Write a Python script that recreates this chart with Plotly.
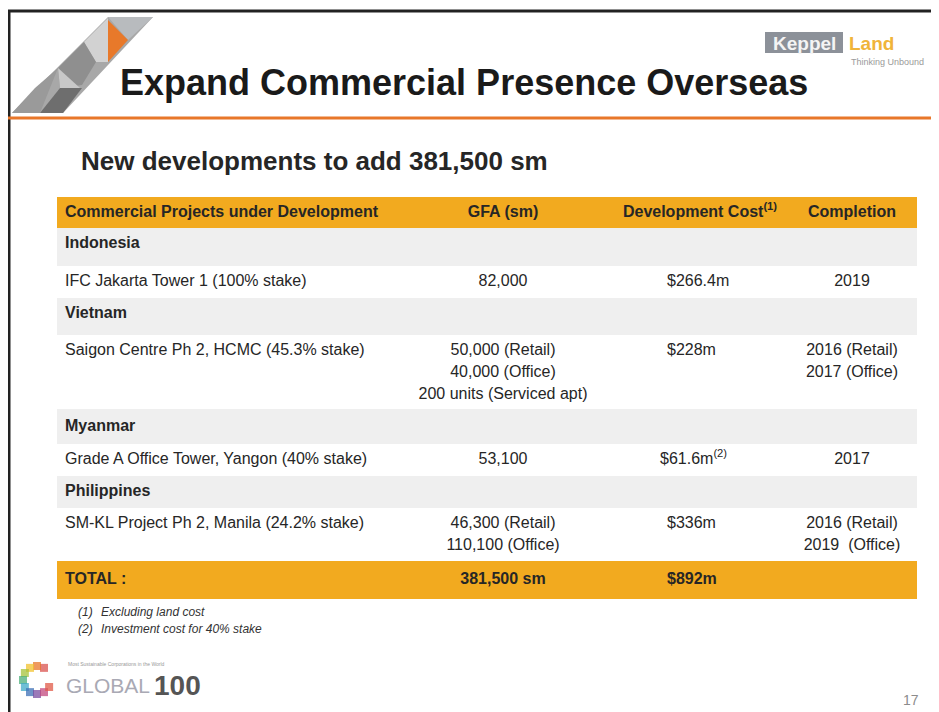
import math
import plotly.graph_objects as go

# ---------------- data ----------------
header = ["Commercial Projects under Development", "GFA (sm)",
          "Development Cost<sup>(1)</sup>", "Completion"]
countries = ["Indonesia", "Vietnam", "Myanmar", "Philippines"]
projects = ["IFC Jakarta Tower 1 (100% stake)",
            "Saigon Centre Ph 2, HCMC (45.3% stake)",
            "Grade A Office Tower, Yangon (40% stake)",
            "SM-KL Project Ph 2, Manila (24.2% stake)"]
gfa = [["82,000"],
       ["50,000 (Retail)", "40,000 (Office)", "200 units (Serviced apt)"],
       ["53,100"],
       ["46,300 (Retail)", "110,100 (Office)"]]
cost = ["$266.4m", "$228m", "$61.6m<sup>(2)</sup>", "$336m"]
completion = [["2019"],
              ["2016 (Retail)", "2017 (Office)"],
              ["2017"],
              ["2016 (Retail)", "2019  (Office)"]]
total = ["TOTAL :", "381,500 sm", "$892m", ""]
footnotes = [("(1)", "Excluding land cost"), ("(2)", "Investment cost for 40% stake")]
title = "Expand Commercial Presence Overseas"
subtitle = "New developments to add 381,500 sm"
page_no = "17"

# ---------------- layout constants ----------------
W, H = 939, 712
OFF = 8  # page body margin in the browser
FONT = "Liberation Sans, Arial"
ORANGE = "#F2AA1F"
GRAY_ROW = "#EFEFEF"
TXT = "#262626"
T_LEFT, T_RIGHT, T_TOP = 57, 917, 197
HEADER_H, TOTAL_H = 31, 38
COUNTRY_H = [38, 37, 35, 32]
COUNTRY_TXT = [16, 16, 18, 16]
LINE_PITCH = 22
COL0_X, COL1_X, COL2_X, COL2_HDR_X, COL3_X = 65, 503, 667, 700, 852
BODY_SIZE = 16

fig = go.Figure()
shapes = []
texts = {"left": ([], [], []), "center": ([], [], []), "leftb": ([], [], []), "centerb": ([], [], [])}


def add_text(kind, x, y, t):
    if not t:
        return
    texts[kind][0].append(x)
    texts[kind][1].append(y)
    texts[kind][2].append(t)


def add_rect(y0, y1, color):
    shapes.append(dict(type="rect", xref="x", yref="y", x0=T_LEFT, x1=T_RIGHT,
                       y0=y0, y1=y1, fillcolor=color, line_width=0, layer="below"))


# header row
y = T_TOP
add_rect(y, y + HEADER_H, ORANGE)
yc = y + 16
add_text("leftb", COL0_X, yc, header[0])
add_text("centerb", COL1_X, yc, header[1])
add_text("centerb", COL2_HDR_X, yc, header[2])
add_text("centerb", COL3_X, yc, header[3])
y += HEADER_H

for i in range(len(countries)):
    add_rect(y, y + COUNTRY_H[i], GRAY_ROW)
    add_text("leftb", COL0_X, y + COUNTRY_TXT[i], countries[i])
    y += COUNTRY_H[i]
    nlines = max(len(gfa[i]), len(completion[i]))
    rh = 32 + 21 * (nlines - 1)
    add_text("left", COL0_X, y + 16, projects[i])
    for k, g in enumerate(gfa[i]):
        add_text("center", COL1_X, y + 16 + LINE_PITCH * k, g)
    add_text("left", COL2_X if "sup" not in cost[i] else COL2_X - 7, y + 16, cost[i])
    for k, c in enumerate(completion[i]):
        add_text("center", COL3_X, y + 16 + LINE_PITCH * k, c)
    y += rh

add_rect(y, y + TOTAL_H, ORANGE)
yc = y + 19
add_text("leftb", COL0_X, yc, total[0])
add_text("centerb", COL1_X, yc, total[1])
add_text("leftb", COL2_X, yc, total[2])
add_text("centerb", COL3_X, yc, total[3])
table_bottom = y + TOTAL_H

for kind, (xs, ys, ts) in texts.items():
    bold = kind.endswith("b")
    fig.add_trace(go.Scatter(
        x=xs, y=ys, text=[f"<b>{t}</b>" if bold else t for t in ts],
        mode="text", textposition="middle right" if kind.startswith("left") else "middle center",
        textfont=dict(family=FONT, size=BODY_SIZE, color=TXT),
        hoverinfo="skip", showlegend=False, cliponaxis=False))

annotations = []
# footnotes
for k, (n, t) in enumerate(footnotes):
    fy = table_bottom + 13 + 17 * k
    annotations.append(dict(x=76, y=fy, xref="x", yref="y", text=f"<i>{n}</i>", showarrow=False,
                            xanchor="left", yanchor="middle",
                            font=dict(family=FONT, size=12, color="#333333")))
    annotations.append(dict(x=99, y=fy, xref="x", yref="y", text=f"<i>{t}</i>", showarrow=False,
                            xanchor="left", yanchor="middle",
                            font=dict(family=FONT, size=12, color="#333333")))

# title and subtitle
annotations.append(dict(x=118, y=82, xref="x", yref="y", text=f"<b>{title}</b>", showarrow=False,
                        xanchor="left", yanchor="middle",
                        font=dict(family=FONT, size=36, color="#1A1A1A")))
annotations.append(dict(x=79, y=161, xref="x", yref="y", text=f"<b>{subtitle}</b>", showarrow=False,
                        xanchor="left", yanchor="middle",
                        font=dict(family=FONT, size=26, color="#262626")))
# page number
annotations.append(dict(x=911, y=700, xref="x", yref="y", text=page_no, showarrow=False,
                        xanchor="center", yanchor="middle",
                        font=dict(family=FONT, size=14, color="#8C8C8C")))

# frame lines
shapes.append(dict(type="line", xref="x", yref="y", x0=OFF, x1=W + 5, y0=11, y1=11,
                   line=dict(color="#222222", width=3)))
shapes.append(dict(type="line", xref="x", yref="y", x0=OFF + 1, x1=OFF + 1, y0=10, y1=H + 5,
                   line=dict(color="#222222", width=3)))
shapes.append(dict(type="line", xref="x", yref="y", x0=OFF, x1=W + 5, y0=118, y1=118,
                   line=dict(color="#E8772A", width=3)))


def poly(pts, color):
    p = "M " + " L ".join(f"{a},{b}" for a, b in pts) + " Z"
    shapes.append(dict(type="path", xref="x", yref="y", path=p, fillcolor=color, line_width=0))


# top-left decorative logo
poly([(12, 113), (63, 113), (153, 17), (108, 17)], "#A8A8A8")
poly([(108, 17), (153, 17), (128, 40)], "#B8BBBE")
poly([(84, 42), (108, 18), (108, 62), (96, 62)], "#D2D2D2")
poly([(108, 20), (128, 40), (108, 62)], "#E8792A")
poly([(58, 68), (84, 42), (96, 62), (82, 85), (60, 88)], "#8F8F8F")
poly([(58, 68), (80, 88), (60, 88)], "#C8C8C8")
poly([(60, 88), (82, 88), (63, 113), (40, 113)], "#6E6E6E")
poly([(12, 113), (40, 113), (58, 68), (35, 88)], "#9A9A9A")

# Keppel Land logo
shapes.append(dict(type="rect", xref="x", yref="y", x0=765, x1=843, y0=32, y1=53,
                   fillcolor="#8C9199", line_width=0))
annotations.append(dict(x=804, y=43, xref="x", yref="y", text="<b>Keppel</b>", showarrow=False,
                        xanchor="center", yanchor="middle",
                        font=dict(family=FONT, size=19, color="#F4F4F4")))
annotations.append(dict(x=847, y=43, xref="x", yref="y", text="<b>Land</b>", showarrow=False,
                        xanchor="left", yanchor="middle",
                        font=dict(family=FONT, size=19, color="#F0B43A")))
annotations.append(dict(x=849, y=62, xref="x", yref="y", text="Thinking Unbound", showarrow=False,
                        xanchor="left", yanchor="middle",
                        font=dict(family=FONT, size=9, color="#9A9A9A")))

# GLOBAL100 logo
ring_cols = ["#D9534F", "#E8772A", "#F2C12E", "#A5C33B", "#4CAF7A", "#3FA9C8",
             "#3C6FB6", "#7A4EA0", "#C2487E", "#E05A47"]
for k, c in enumerate(ring_cols):
    a = math.radians(60 + 30 * k)
    cx, cy = 37 + 14 * math.cos(a), 680 - 14 * math.sin(a)
    shapes.append(dict(type="rect", xref="x", yref="y", x0=cx - 4, x1=cx + 4, y0=cy - 4, y1=cy + 4,
                       fillcolor=c, opacity=0.75, line_width=0))
annotations.append(dict(x=64, y=685, xref="x", yref="y", text="GLOBAL", showarrow=False,
                        xanchor="left", yanchor="middle",
                        font=dict(family=FONT, size=21, color="#A9A9B4")))
annotations.append(dict(x=152, y=685, xref="x", yref="y", text="<b>100</b>", showarrow=False,
                        xanchor="left", yanchor="middle",
                        font=dict(family=FONT, size=28, color="#555555")))
annotations.append(dict(x=66, y=664, xref="x", yref="y", text="Most Sustainable Corporations in the World",
                        showarrow=False, xanchor="left", yanchor="middle",
                        font=dict(family=FONT, size=5, color="#999999")))

fig.update_layout(
    width=W - OFF, height=H - OFF, margin=dict(l=0, r=0, t=0, b=0),
    paper_bgcolor="white", plot_bgcolor="white",
    xaxis=dict(range=[OFF, W], visible=False, fixedrange=True),
    yaxis=dict(range=[H, OFF], visible=False, fixedrange=True),
    shapes=shapes, annotations=annotations, showlegend=False,
)

fig.write_html("out.html")
